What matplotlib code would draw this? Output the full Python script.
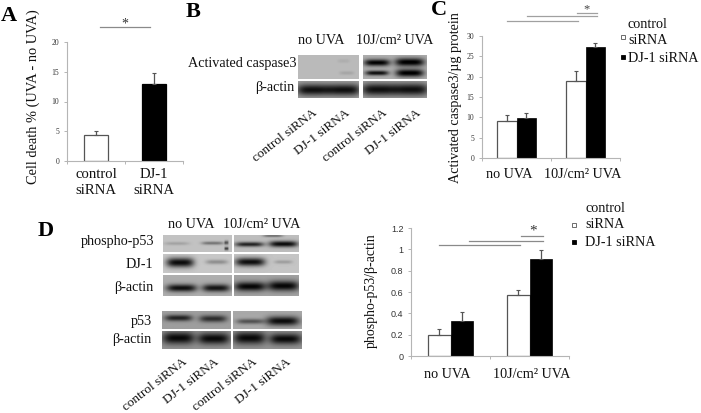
import numpy as np
import matplotlib
matplotlib.use("Agg")
import matplotlib.pyplot as plt

W, H = 701, 413
plt.rcParams['font.family'] = ['Liberation Serif', 'DejaVu Serif']

# Panel A values
a_labels = ["control\nsiRNA", "DJ-1\nsiRNA"]
a_values = [4.4, 13.0]
a_errors = [0.6, 1.8]
a_ticks = [0, 5, 10, 15, 20]

# Panel C values
c_groups = ["no UVA", "10J/cm² UVA"]
c_control = [9.1, 18.9]
c_control_err = [1.4, 2.4]
c_dj1 = [9.9, 27.4]
c_dj1_err = [1.2, 0.8]
c_ticks = [0, 5, 10, 15, 20, 25, 30]

# Panel D values
d_groups = ["no UVA", "10J/cm² UVA"]
d_control = [0.20, 0.57]
d_control_err = [0.05, 0.05]
d_dj1 = [0.33, 0.91]
d_dj1_err = [0.08, 0.08]
d_ticks = [0, 0.2, 0.4, 0.6, 0.8, 1, 1.2]
d_ticklabels = ["0", "0.2", "0.4", "0.6", "0.8", "1", "1.2"]

fig = plt.figure(figsize=(W / 100, H / 100), dpi=100)

# Whole figure in pixel coordinates for the labels and the blots
page = fig.add_axes([0, 0, 1, 1])
page.set_xlim(0, W)
page.set_ylim(H, 0)
page.axis("off")


def pixel_axes(x0, y0, x1, y1):
    return fig.add_axes([x0 / W, 1 - y1 / H, (x1 - x0) / W, (y1 - y0) / H])


def style_axes(ax, ticks, ticklabels, size, family):
    for side in ["top", "right"]:
        ax.spines[side].set_visible(False)
    for side in ["left", "bottom"]:
        ax.spines[side].set_color("#b5b5b5")
        ax.spines[side].set_linewidth(0.8)
    ax.set_yticks(ticks)
    ax.set_yticklabels(ticklabels, fontsize=size, color="#333333", family=family)
    ax.tick_params(axis="y", length=2.5, width=0.7, color="#b5b5b5", pad=3)
    ax.patch.set_alpha(0)


def grouped_bars(ax, groups, control, control_err, dj1, dj1_err, width):
    pos = np.arange(len(groups))
    err_kw = dict(lw=0.9, ecolor="#555555", capsize=1.5, capthick=0.8)
    ax.bar(pos - width / 2, control, width, color="white", edgecolor="#555555", linewidth=0.9)
    ax.bar(pos + width / 2, dj1, width, color="black", edgecolor="black", linewidth=0.5)
    ax.errorbar(pos - width / 2, control, yerr=[[0, 0], control_err], fmt="none", **err_kw)
    ax.errorbar(pos + width / 2, dj1, yerr=[[0, 0], dj1_err], fmt="none", **err_kw)
    ax.set_xlim(-0.5, len(groups) - 0.5)
    ax.set_xticks(np.arange(len(groups) + 1) - 0.5)
    ax.set_xticklabels([])
    ax.tick_params(axis="x", length=2.5, width=0.7, color="#b5b5b5")


def blot(x0, y0, x1, y1, bands, bg=0.72):
    # bands: centre x, centre y, half width, half height, darkness (fractions of the panel)
    nx, ny = max(int(x1 - x0), 2), max(int(y1 - y0), 2)
    xx, yy = np.meshgrid((np.arange(nx) + 0.5) / nx, (np.arange(ny) + 0.5) / ny)
    img = np.full((ny, nx), float(bg))
    for cx, cy, hw, hh, dark in bands:
        d = np.exp(-((xx - cx) / hw) ** 4 - ((yy - cy) / hh) ** 2)
        img -= dark * d
    ax = pixel_axes(x0, y0, x1, y1)
    ax.imshow(np.clip(img, 0, 1), cmap="gray", vmin=0, vmax=1, aspect="auto", interpolation="bilinear")
    ax.axis("off")


def rotated_lanes(xs, y):
    for x, t in zip(xs, ["control siRNA", "DJ-1 siRNA", "control siRNA", "DJ-1 siRNA"]):
        page.text(x, y, t, rotation=38, rotation_mode="anchor", ha="right", va="top",
                  fontsize=9.6, color="#111111")


def legend(tx, mx, y0, y1, y2):
    page.text(tx, y0, "control", fontsize=10.2, va="center", color="#111111")
    page.text(tx, y1, "siRNA", fontsize=10.2, va="center", color="#111111")
    page.text(tx, y2, "DJ-1 siRNA", fontsize=10.2, va="center", color="#111111")
    page.plot([mx], [y1 - 4 if mx > 600 else y1], "s", ms=3, mfc="white", mec="#555555", mew=0.6)
    page.plot([mx], [y2 - 1], "s", ms=3, mfc="black", mec="black", mew=0.6)


# Panel letters
for letter, x, y in [("A", 1, 16), ("B", 186, 12), ("C", 431, 10), ("D", 38, 231)]:
    page.text(x, y, letter, fontsize=16, fontweight="bold", va="center", color="black")

# Panel A
ax_a = pixel_axes(67, 42, 183, 161)
ax_a.bar([0, 1], a_values, 0.41, color=["white", "black"], edgecolor=["#555555", "black"], linewidth=0.9)
ax_a.errorbar([0, 1], a_values, yerr=[[0, 0], a_errors], fmt="none", lw=0.9, ecolor="#555555", capsize=1.5, capthick=0.8)
ax_a.set_xlim(-0.5, 1.5)
ax_a.set_ylim(0, 20)
ax_a.set_xticks([-0.5, 0.5, 1.5])
ax_a.set_xticklabels([])
ax_a.tick_params(axis="x", length=2, width=0.7, color="#b5b5b5")
style_axes(ax_a, a_ticks, a_ticks, 5.5, "Liberation Serif")
for i, t in enumerate(a_labels):
    ax_a.annotate(t, (i, 0), xytext=(0, -5), textcoords="offset points", ha="center", va="top",
                  fontsize=10.6, linespacing=1.3, color="#111111")
page.text(33, 97, "Cell death % (UVA - no UVA)", rotation=90, ha="center", va="center", fontsize=10.4, color="#111111")
page.plot([100, 150], [27, 27], color="#8a8a8a", lw=0.9)
page.text(125, 24, "*", ha="center", va="center", fontsize=10, color="#333333")

# Panel B
page.text(298, 41, "no UVA", fontsize=10.2, va="center", color="#111111")
page.text(356, 41, "10J/cm² UVA", fontsize=10.2, va="center", color="#111111")
page.text(296, 63, "Activated caspase3", fontsize=10.2, ha="right", va="center", color="#111111")
page.text(294, 88, "β-actin", fontsize=10.2, ha="right", va="center", color="#111111")
blot(298, 55, 359, 79, [(0.75, 0.25, 0.1, 0.08, 0.05), (0.8, 0.75, 0.12, 0.08, 0.08)], bg=0.73)
blot(363, 55, 427, 79, [(0.22, 0.32, 0.2, 0.14, 0.68), (0.73, 0.3, 0.23, 0.17, 0.7),
                        (0.22, 0.75, 0.18, 0.1, 0.62), (0.73, 0.75, 0.22, 0.16, 0.7)], bg=0.68)
blot(298, 81, 359, 98, [(0.25, 0.52, 0.27, 0.34, 0.58), (0.75, 0.52, 0.27, 0.34, 0.58)], bg=0.64)
blot(363, 81, 427, 98, [(0.25, 0.5, 0.27, 0.36, 0.58), (0.75, 0.5, 0.27, 0.36, 0.58)], bg=0.64)
rotated_lanes([312, 345, 382, 416], 107)

# Panel C
ax_c = pixel_axes(482, 36, 620, 158)
grouped_bars(ax_c, c_groups, c_control, c_control_err, c_dj1, c_dj1_err, 0.28)
ax_c.set_ylim(0, 30)
style_axes(ax_c, c_ticks, c_ticks, 5.5, "Liberation Serif")
page.text(509, 175, c_groups[0], ha="center", va="center", fontsize=10.2, color="#111111")
page.text(583, 175, c_groups[1], ha="center", va="center", fontsize=10.2, color="#111111")
page.text(455, 98, "Activated caspase3/µg protein", rotation=90, ha="center", va="center", fontsize=10.2, color="#111111")
for x0, x1, y in [(507, 578, 21), (527, 597, 16), (577, 597, 13)]:
    page.plot([x0, x1], [y, y], color="#a0a0a0", lw=0.9)
page.text(587, 9, "*", ha="center", va="center", fontsize=9, color="#444444")
legend(628, 623, 24, 41, 58)

# Panel D blots
page.text(168, 224, "no UVA", fontsize=10.2, va="center", color="#111111")
page.text(223, 224, "10J/cm² UVA", fontsize=10.2, va="center", color="#111111")
for label, y, x in [("phospho-p53", 241, 154), ("DJ-1", 264, 153), ("β-actin", 288, 153),
                    ("p53", 321, 152), ("β-actin", 340, 151)]:
    page.text(x, y, label, fontsize=10.2, ha="right", va="center", color="#111111")
blot(163, 235, 232, 252, [(0.2, 0.5, 0.18, 0.1, 0.12), (0.72, 0.48, 0.16, 0.1, 0.3), (0.92, 0.45, 0.03, 0.12, 0.4), (0.92, 0.8, 0.03, 0.1, 0.5)], bg=0.76)
blot(234, 235, 299, 252, [(0.24, 0.55, 0.22, 0.14, 0.6), (0.76, 0.53, 0.22, 0.18, 0.7), (0.6, 0.05, 0.15, 0.08, 0.3)], bg=0.74)
blot(163, 254, 232, 273, [(0.25, 0.45, 0.2, 0.25, 0.74), (0.78, 0.42, 0.16, 0.12, 0.22)], bg=0.78)
blot(234, 254, 299, 273, [(0.25, 0.42, 0.23, 0.22, 0.72), (0.76, 0.42, 0.14, 0.1, 0.15)], bg=0.77)
blot(163, 275, 232, 296, [(0.27, 0.62, 0.22, 0.18, 0.62), (0.77, 0.62, 0.2, 0.18, 0.6)], bg=0.68)
blot(234, 275, 299, 296, [(0.25, 0.55, 0.24, 0.22, 0.62), (0.76, 0.52, 0.24, 0.24, 0.62)], bg=0.64)
blot(162, 311, 230, 329, [(0.24, 0.42, 0.2, 0.16, 0.5), (0.74, 0.46, 0.2, 0.18, 0.45)], bg=0.62)
blot(233, 311, 302, 329, [(0.25, 0.6, 0.2, 0.13, 0.35), (0.72, 0.58, 0.24, 0.24, 0.62)], bg=0.66)
blot(162, 331, 230, 349, [(0.24, 0.42, 0.23, 0.32, 0.55), (0.75, 0.45, 0.23, 0.3, 0.55)], bg=0.58)
blot(233, 331, 302, 349, [(0.24, 0.42, 0.23, 0.32, 0.55), (0.76, 0.47, 0.23, 0.28, 0.55)], bg=0.58)
rotated_lanes([182, 214, 252, 286], 356)

# Panel D chart
ax_d = pixel_axes(411, 228, 569, 356)
grouped_bars(ax_d, d_groups, d_control, d_control_err, d_dj1, d_dj1_err, 0.29)
ax_d.set_ylim(0, 1.2)
style_axes(ax_d, d_ticks, d_ticklabels, 6.5, "Liberation Sans")
page.text(447, 375, d_groups[0], ha="center", va="center", fontsize=10.2, color="#111111")
page.text(532, 375, d_groups[1], ha="center", va="center", fontsize=10.2, color="#111111")
page.text(371, 291, "phospho-p53/β-actin", rotation=90, ha="center", va="center", fontsize=10, color="#111111")
for x0, x1, y in [(439, 520, 245), (469, 543, 241), (521, 543, 236)]:
    page.plot([x0, x1], [y, y], color="#8a8a8a", lw=0.9)
page.text(533, 231, "*", ha="center", va="center", fontsize=11, color="#333333")
legend(585, 574, 208, 225, 243)

page.set_xlim(0, W)
page.set_ylim(H, 0)
fig.savefig("out.png", dpi=100)
